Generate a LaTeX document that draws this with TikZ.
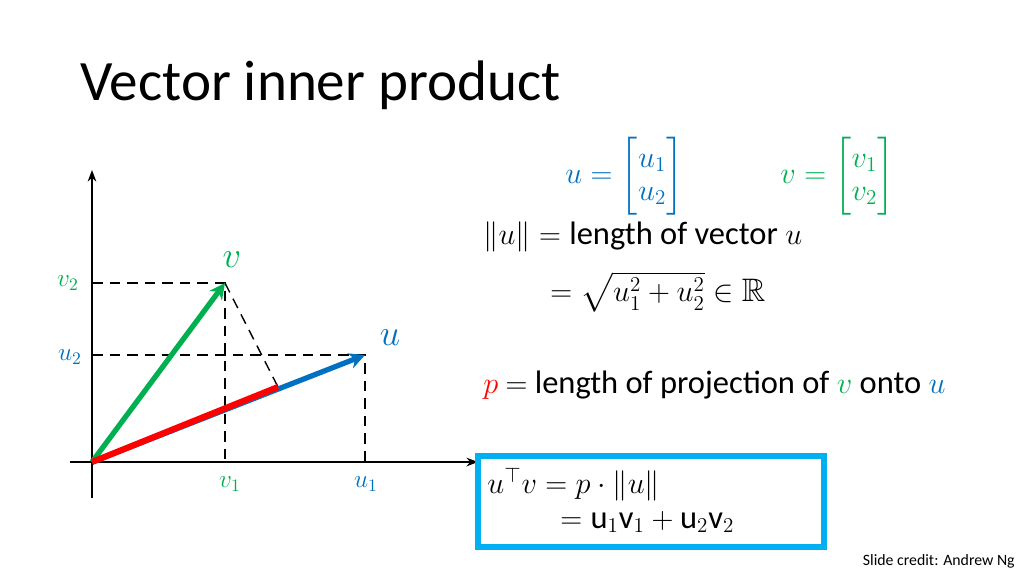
\documentclass[tikz,border=0pt]{standalone}
\usepackage{amsmath,amssymb}
\usepackage{fontspec}
\setmainfont{Carlito}
\usetikzlibrary{positioning, arrows.meta, calc}
\definecolor{ublue}{RGB}{0,112,192}
\definecolor{vgreen}{RGB}{0,176,80}
\definecolor{pred}{RGB}{255,0,0}
\definecolor{boxcyan}{RGB}{0,176,240}
\newcommand{\bodysz}{\fontsize{18.5}{22}\selectfont}
\begin{document}
\begin{tikzpicture}[
                x=0.02cm, y=-0.02cm,
                >=Stealth,
                axis/.style={thick, ->},
                vec/.style={line width=3pt, -{Stealth[length=9pt, width=9pt]}},
                guide/.style={thick, dashed, dash pattern=on 6pt off 4pt},
                txt/.style={anchor=west, inner sep=0pt, font=\bodysz},
            ]
                \useasboundingbox (0,0) rectangle (1024,576);
                % Title
                \node[anchor=west, inner sep=0pt, font=\fontsize{32.5}{38}\selectfont] (title) at (80,85) {Vector inner product};

                % Axes
                \coordinate (O) at (92,462);
                \coordinate (xl) at (70,462);
                \coordinate (xr) at (478,462);
                \coordinate (yb) at (92,498);
                \coordinate (yt) at (92,170);
                \draw[axis] (xl) -- (xr);
                \draw[axis] (yb) -- (yt);

                % Vector tips and projection
                \coordinate (V) at (225,283);
                \coordinate (U) at (365,355);
                \coordinate (P) at (278,387);
                \coordinate (V2) at (92,283);
                \coordinate (V1) at (225,462);
                \coordinate (U2) at (92,355);
                \coordinate (U1) at (365,462);

                % Dashed guides
                \draw[guide] (V2) -- (V) -- (V1);
                \draw[guide] (U2) -- (U) -- (U1);
                \draw[guide] (V) -- (P);

                % Vectors
                \draw[vec, ublue] (O) -- (U);
                \draw[vec, vgreen] (O) -- (V);
                \draw[line width=3.5pt, pred] (O) -- (P);

                % Axis labels
                \node[vgreen, font=\Large] (lv2) at (68,283) {$v_2$};
                \node[ublue, font=\Large] (lu2) at (70,357) {$u_2$};
                \node[vgreen, font=\Large] (lv1) at (230,484) {$v_1$};
                \node[ublue, font=\Large] (lu1) at (366,484) {$u_1$};
                \node[vgreen, font=\huge] (lv) at (232,260) {$v$};
                \node[ublue, font=\huge] (lu) at (390,338) {$u$};

                % Definitions
                \node[txt, ublue] (udef) at (565,176) {$u = \left[\begin{matrix} u_1\\[-3pt] u_2\end{matrix}\right]$};
                \node[txt, vgreen] (vdef) at (780,176) {$v = \left[\begin{matrix} v_1\\[-3pt] v_2\end{matrix}\right]$};
                \node[txt] (norm) at (483,237) {$\lVert u\rVert = {}$length of vector $u$};
                \node[txt] (sqrt) at (550,292) {$= \sqrt{u_1^2 + u_2^2} \in \mathbb{R}$};
                \node[txt] (proj) at (483,385) {$\color{pred}p$ $=$ length of projection of $\color{vgreen}v$ onto $\color{ublue}u$};

                % Boxed result
                \draw[boxcyan, line width=3.5pt] (478,456) rectangle (824,547);
                \node[txt] (inner) at (487,484) {$u^{\top} v = p \cdot \lVert u\rVert$};
                \node[txt] (sum) at (560,522) {$= \mathrm{u}_1\mathrm{v}_1 + \mathrm{u}_2\mathrm{v}_2$};

                % Credit
                \node[anchor=east, inner sep=0pt, font=\fontsize{9}{11}\selectfont] (credit) at (1015,561) {Slide credit: Andrew Ng};
            \end{tikzpicture}
\end{document}
